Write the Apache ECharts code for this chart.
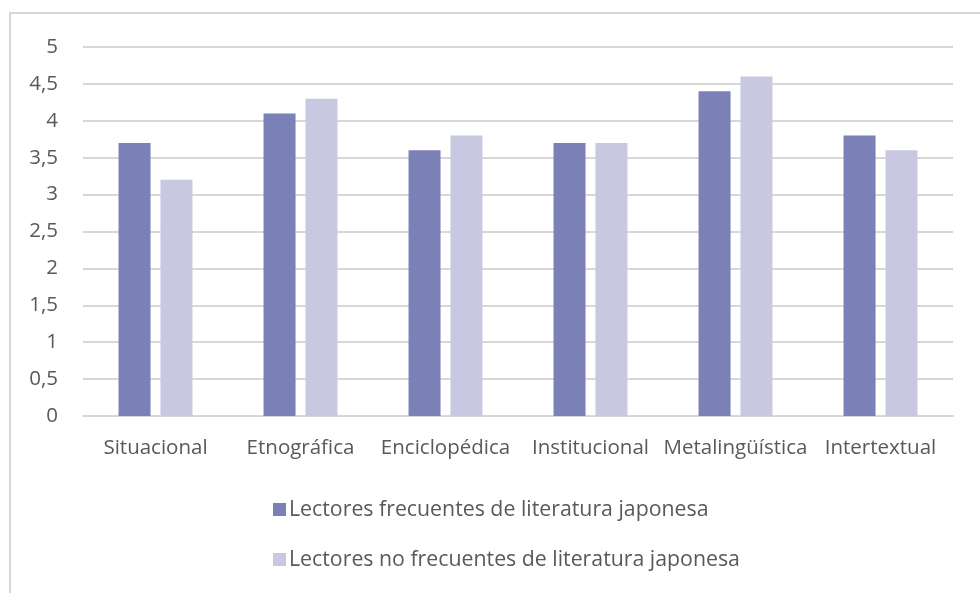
<!DOCTYPE html>
<html>
<head>
<meta charset="utf-8">
<script src="https://cdn.jsdelivr.net/npm/echarts@6/dist/echarts.min.js"></script>
<style>
  html, body { margin: 0; padding: 0; background: #fff; }
  #frame { position: absolute; left: 9px; top: 12px; width: 990px; height: 600px; border: 2px solid #d9d6d6; box-sizing: border-box; }
  #chart { position: absolute; left: 0; top: 0; width: 980px; height: 593px; }
</style>
</head>
<body>
<div id="frame"></div>
<div id="chart"></div>
<script>
const categories = ['Situacional', 'Etnográfica', 'Enciclopédica', 'Institucional', 'Metalingüística', 'Intertextual'];
const frecuentes = [3.7, 4.1, 3.6, 3.7, 4.4, 3.8];
const noFrecuentes = [3.2, 4.3, 3.8, 3.7, 4.6, 3.6];
const seriesNames = ['Lectores frecuentes de literatura japonesa', 'Lectores no frecuentes de literatura japonesa'];

const chart = echarts.init(document.getElementById('chart'), null, { renderer: 'canvas' });
const font = 'Open Sans';
const textColor = '#595959';
chart.setOption({
  animation: false,
  textStyle: { fontFamily: font },
  grid: { left: 83, right: 27, top: 47, bottom: 177, containLabel: false },
  legend: {
    orient: 'vertical',
    left: 268,
    top: 494,
    itemWidth: 13,
    itemHeight: 13,
    itemGap: 29,
    icon: 'rect',
    textStyle: { fontFamily: font, fontSize: 21.3, color: textColor, padding: [0, 0, 0, -2] },
    data: seriesNames
  },
  xAxis: {
    type: 'category',
    data: categories,
    axisLine: { lineStyle: { color: '#d9d6d6', width: 2 } },
    axisTick: { show: false },
    axisLabel: { fontFamily: font, fontSize: 20.5, color: textColor, margin: 22, interval: 0 }
  },
  yAxis: {
    type: 'value',
    min: 0,
    max: 5,
    interval: 0.5,
    axisLine: { show: false },
    axisTick: { show: false },
    splitLine: { lineStyle: { color: '#d9d6d6', width: 2 } },
    axisLabel: {
      fontFamily: font, fontSize: 20.5, color: textColor, margin: 25,
      formatter: v => String(v).replace('.', ',')
    }
  },
  series: [
    { name: seriesNames[0], type: 'bar', data: frecuentes, barWidth: 32, barGap: '31%', itemStyle: { color: '#7b80b6' } },
    { name: seriesNames[1], type: 'bar', data: noFrecuentes, barWidth: 32, itemStyle: { color: '#c8c9e1' } }
  ]
});
</script>
</body>
</html>
